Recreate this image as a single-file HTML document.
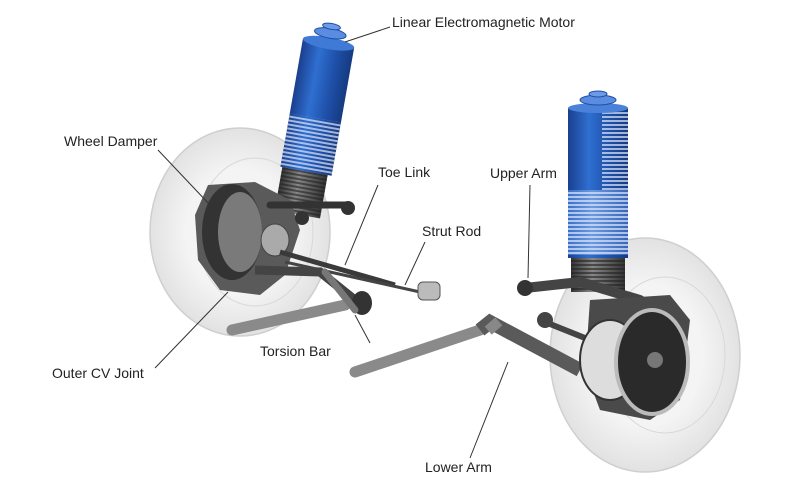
<!DOCTYPE html>
<html><head><meta charset="utf-8"><style>
html,body{margin:0;padding:0;background:#fff}
svg{display:block}
text{font-family:"Liberation Sans",sans-serif;font-size:14px;fill:#222}
</style></head><body>
<svg width="800" height="492" viewBox="0 0 800 492" xmlns="http://www.w3.org/2000/svg">
<defs>
<linearGradient id="bl" x1="0" x2="1" y1="0" y2="0">
<stop offset="0" stop-color="#1a3f8f"/><stop offset=".35" stop-color="#2f6fd0"/><stop offset=".7" stop-color="#1e4fa8"/><stop offset="1" stop-color="#163a80"/></linearGradient>
<linearGradient id="bl2" x1="0" x2="1" y1="0" y2="0">
<stop offset="0" stop-color="#3a6fc8"/><stop offset=".4" stop-color="#6c9ae0"/><stop offset="1" stop-color="#3564b8"/></linearGradient>
<linearGradient id="gr" x1="0" x2="1" y1="0" y2="0">
<stop offset="0" stop-color="#333"/><stop offset=".4" stop-color="#888"/><stop offset="1" stop-color="#333"/></linearGradient>
<radialGradient id="wh" cx=".5" cy=".5" r=".5">
<stop offset=".6" stop-color="#f4f4f4"/><stop offset="1" stop-color="#e2e2e2"/></radialGradient>
<pattern id="rib" width="4" height="4" patternUnits="userSpaceOnUse"><rect width="4" height="2" fill="#dfe8f8" opacity=".7"/></pattern>
<pattern id="rib2" width="4" height="4" patternUnits="userSpaceOnUse"><rect width="4" height="2" fill="#222" opacity=".6"/></pattern>
</defs>
<ellipse cx="240" cy="232" rx="90" ry="104" fill="url(#wh)" stroke="#cfcfcf" stroke-width="1.5"/>
<ellipse cx="255" cy="232" rx="58" ry="74" fill="none" stroke="#d8d8d8"/>
<ellipse cx="645" cy="355" rx="95" ry="117" fill="url(#wh)" stroke="#cfcfcf" stroke-width="1.5"/>
<ellipse cx="665" cy="355" rx="60" ry="78" fill="none" stroke="#d8d8d8"/>

<g transform="rotate(10 315 120)">
<rect x="291" y="168" width="46" height="48" fill="url(#gr)"/>
<rect x="291" y="168" width="46" height="48" fill="url(#rib2)"/>
<rect x="289" y="42" width="52" height="130" fill="url(#bl)"/>
<rect x="289" y="118" width="52" height="54" fill="url(#rib)"/>
<ellipse cx="315" cy="42" rx="26" ry="6" fill="#3f7ad6"/>
<ellipse cx="315" cy="32" rx="16" ry="5" fill="#5a8de0" stroke="#1e4fa8"/>
<ellipse cx="315" cy="25" rx="9" ry="3" fill="#6b9be6" stroke="#1e4fa8"/>
</g>
<path d="M208 185 L255 182 L290 200 L300 230 L285 275 L260 295 L220 290 L198 260 L195 215 Z" fill="#5a5a5a"/>
<ellipse cx="232" cy="232" rx="30" ry="48" fill="#333"/>
<ellipse cx="240" cy="232" rx="22" ry="40" fill="#7a7a7a"/>
<ellipse cx="275" cy="240" rx="14" ry="16" fill="#aaa" stroke="#444"/>
<path d="M270 205 L345 205" stroke="#333" stroke-width="7" stroke-linecap="round"/>
<circle cx="348" cy="208" r="7" fill="#333"/>
<circle cx="302" cy="218" r="7" fill="#333"/>
<path d="M280 252 L395 285" stroke="#3a3a3a" stroke-width="5"/>
<path d="M285 262 L420 292" stroke="#444" stroke-width="3"/>
<rect x="418" y="282" width="22" height="18" rx="5" fill="#bbb" stroke="#555"/>
<path d="M255 270 L320 272 L355 300" stroke="#444" stroke-width="9" fill="none"/>
<path d="M232 330 L345 305" stroke="#8a8a8a" stroke-width="11" stroke-linecap="round"/>
<ellipse cx="362" cy="303" rx="10" ry="12" fill="#333"/>
<path d="M325 272 L355 310" stroke="#777" stroke-width="7" stroke-linecap="round"/>
<path d="M355 372 L480 330" stroke="#8a8a8a" stroke-width="11" stroke-linecap="round"/>
<path d="M480 330 L490 322 L580 370" stroke="#5a5a5a" stroke-width="14" fill="none"/>
<path d="M490 322 L497 330" stroke="#888" stroke-width="14"/>
<path d="M540 320 L590 340" stroke="#444" stroke-width="6"/>
<circle cx="545" cy="320" r="8" fill="#444"/>

<rect x="571" y="250" width="54" height="42" fill="url(#gr)"/>
<rect x="571" y="250" width="54" height="42" fill="url(#rib2)"/>
<rect x="568" y="108" width="60" height="150" fill="url(#bl)"/>
<rect x="602" y="112" width="26" height="140" fill="url(#rib)"/>
<rect x="568" y="190" width="60" height="65" fill="url(#bl2)"/>
<rect x="568" y="190" width="60" height="65" fill="url(#rib)"/>
<ellipse cx="598" cy="108" rx="30" ry="5" fill="#4a82da"/>
<ellipse cx="598" cy="100" rx="18" ry="5" fill="#5a8de0" stroke="#1e4fa8"/>
<ellipse cx="598" cy="94" rx="9" ry="3" fill="#6b9be6" stroke="#1e4fa8"/>
<path d="M525 288 L580 282 L640 300" stroke="#444" stroke-width="10" fill="none" stroke-linecap="round"/>
<circle cx="525" cy="288" r="8" fill="#333"/>
<path d="M590 300 L670 295 L690 320 L680 400 L650 420 L600 410 L585 370 Z" fill="#4a4a4a"/>
<ellipse cx="610" cy="360" rx="30" ry="40" fill="#ddd" stroke="#333" stroke-width="2"/>
<ellipse cx="652" cy="362" rx="36" ry="52" fill="#2a2a2a" stroke="#bbb" stroke-width="4"/>
<circle cx="655" cy="360" r="8" fill="#777"/>

<g stroke="#333" stroke-width="1" fill="none">
<line x1="390" y1="27" x2="345" y2="42"/>
<line x1="158" y1="150" x2="210" y2="205"/>
<line x1="378" y1="185" x2="345" y2="265"/>
<line x1="425" y1="242" x2="405" y2="285"/>
<line x1="530" y1="185" x2="528" y2="278"/>
<line x1="370" y1="343" x2="355" y2="315"/>
<line x1="155" y1="368" x2="228" y2="292"/>
<line x1="470" y1="458" x2="508" y2="362"/>
</g>
<text x="392" y="27">Linear Electromagnetic Motor</text>
<text x="64" y="146">Wheel Damper</text>
<text x="378" y="177">Toe Link</text>
<text x="490" y="178">Upper Arm</text>
<text x="422" y="236">Strut Rod</text>
<text x="260" y="356">Torsion Bar</text>
<text x="52" y="378">Outer CV Joint</text>
<text x="425" y="472">Lower Arm</text>
</svg>
</body></html>
